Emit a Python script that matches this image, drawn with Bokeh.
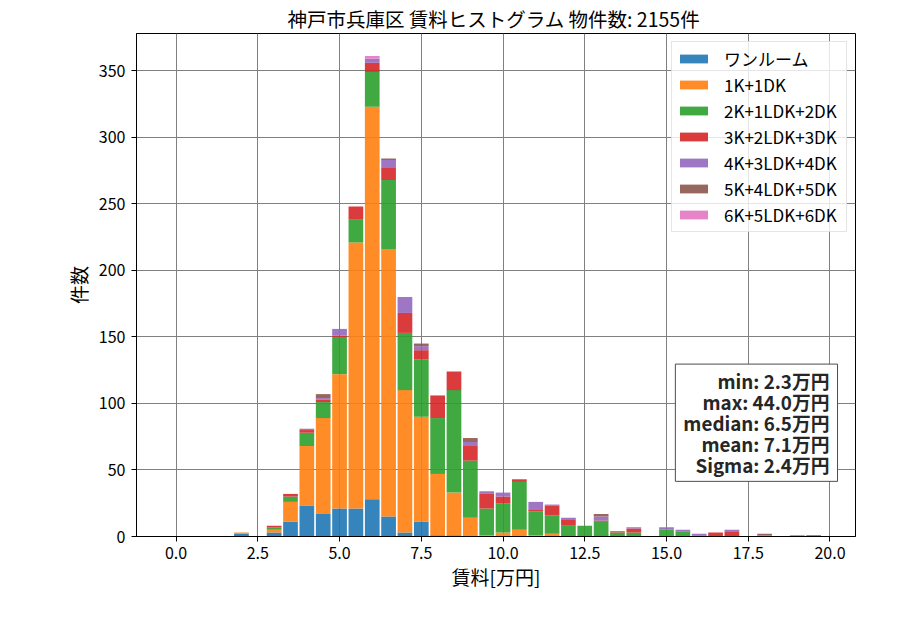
import numpy as np
from bokeh.plotting import figure
from bokeh.models import ColumnDataSource, Range1d, FixedTicker, Label
from bokeh.embed import file_html
from bokeh.resources import INLINE

FONT = "Noto Sans CJK JP"

# 賃料ビン中心 [万円]
rent = [2.0, 2.5, 3.0, 3.5, 4.0, 4.5, 5.0, 5.5, 6.0, 6.5, 7.0, 7.5,
        8.0, 8.5, 9.0, 9.5, 10.0, 10.5, 11.0, 11.5, 12.0, 12.5, 13.0, 13.5,
        14.0, 14.5, 15.0, 15.5, 16.0, 16.5, 17.0, 17.5, 18.0, 18.5, 19.0, 19.5]

# 間取り別の件数 (下から積み上げ)
one_room = [2, 0, 3, 11, 23, 17, 21, 21, 28, 15, 3, 11,
            1, 1, 0, 0, 0, 0, 0, 0, 0, 0, 0, 0,
            0, 0, 0, 0, 0, 0, 0, 0, 0, 0, 0, 0]
k1 = [1, 0, 2, 15, 45, 72, 101, 200, 295, 201, 107, 79,
      46, 32, 14, 1, 3, 5, 1, 2, 0, 0, 0, 0,
      0, 0, 0, 0, 0, 0, 0, 0, 0, 0, 0, 0]
k2 = [0, 0, 2, 4, 10, 12, 28, 17, 26, 52, 43, 43,
      42, 77, 43, 20, 22, 36, 18, 14, 8, 8, 11, 3,
      3, 0, 5, 4, 1, 0, 0, 0, 0, 0, 0, 0]
k3 = [0, 0, 1, 2, 2, 2, 1, 10, 7, 9, 15, 7,
      17, 14, 11, 11, 5, 2, 1, 7, 5, 0, 1, 1,
      3, 0, 0, 0, 0, 3, 4, 0, 0, 0, 0, 1]
k4 = [0, 0, 0, 0, 1, 1, 5, 0, 3, 6, 12, 3,
      0, 0, 3, 2, 3, 0, 6, 1, 1, 0, 3, 0,
      1, 0, 2, 1, 1, 0, 1, 0, 1, 0, 1, 0]
k5 = [0, 0, 0, 0, 0, 3, 0, 0, 0, 1, 0, 2,
      0, 0, 3, 0, 0, 0, 0, 0, 0, 0, 2, 0,
      0, 0, 0, 0, 0, 0, 0, 0, 1, 0, 0, 0]
k6 = [0, 0, 0, 0, 0, 0, 0, 0, 2, 0, 0, 0,
      0, 0, 0, 0, 0, 0, 0, 0, 0, 0, 0, 0,
      0, 0, 0, 0, 0, 0, 0, 0, 0, 0, 0, 0]

labels = ["ワンルーム", "1K+1DK", "2K+1LDK+2DK", "3K+2LDK+3DK",
          "4K+3LDK+4DK", "5K+4LDK+5DK", "6K+5LDK+6DK"]
colors = ["#1f77b4", "#ff7f0e", "#2ca02c", "#d62728",
          "#9467bd", "#8c564b", "#e377c2"]

x_ticks = [0.0, 2.5, 5.0, 7.5, 10.0, 12.5, 15.0, 17.5, 20.0]
x_tick_labels = ["0.0", "2.5", "5.0", "7.5", "10.0", "12.5", "15.0", "17.5", "20.0"]
y_ticks = [0, 50, 100, 150, 200, 250, 300, 350]

stats = ["min: 2.3万円", "max: 44.0万円", "median: 6.5万円",
         "mean: 7.1万円", "Sigma: 2.4万円"]
n_total = 2155

stackers = ["one_room", "k1", "k2", "k3", "k4", "k5", "k6"]
source = ColumnDataSource(data={
    "rent": rent, "one_room": one_room, "k1": k1, "k2": k2,
    "k3": k3, "k4": k4, "k5": k5, "k6": k6,
})

p = figure(
    width=884, height=614,
    x_range=Range1d(-1.21, 20.78), y_range=Range1d(0, 378),
    output_backend="svg", toolbar_location=None,
    min_border_left=136, min_border_right=29,
    min_border_top=32, min_border_bottom=78,
)

p.vbar_stack(stackers, x="rent", width=0.45, source=source,
             color=colors, fill_alpha=0.9, line_color=None,
             legend_label=labels)

# タイトル
p.title.text = "神戸市兵庫区 賃料ヒストグラム  物件数: %d件" % n_total
p.title.text_font = FONT
p.title.text_font_size = "19.5px"
p.title.text_font_style = "normal"
p.title.text_color = "black"
p.title.align = "center"
p.title.standoff = 2

# 軸
p.xaxis.ticker = FixedTicker(ticks=x_ticks)
p.xaxis.major_label_overrides = {t: s for t, s in zip(x_ticks, x_tick_labels)}
p.yaxis.ticker = FixedTicker(ticks=y_ticks)
p.xaxis.axis_label = "賃料[万円]"
p.yaxis.axis_label = "件数"
for ax in (p.xaxis, p.yaxis):
    ax.axis_label_text_font = FONT
    ax.axis_label_text_font_size = "19px"
    ax.axis_label_text_font_style = "normal"
    ax.axis_label_text_color = "black"
    ax.major_label_text_font = FONT
    ax.major_label_text_font_size = "16px"
    ax.major_label_text_color = "black"
    ax.axis_line_color = "black"
    ax.major_tick_line_color = "black"
    ax.major_tick_out = 5
    ax.major_tick_in = 0
    ax.minor_tick_line_color = None
p.xaxis.major_label_standoff = 5
p.xaxis.axis_label_standoff = 1
p.yaxis.major_label_standoff = 6
p.yaxis.axis_label_standoff = 4
p.yaxis.major_label_orientation = "horizontal"

p.grid.grid_line_color = "#808080"
p.grid.grid_line_width = 1
p.outline_line_color = "black"
p.outline_line_width = 1

# 凡例
lg = p.legend[0]
lg.location = "top_right"
lg.margin = 8
lg.padding = 4
lg.spacing = 1
lg.glyph_width = 35
lg.glyph_height = 11
lg.label_height = 20
lg.label_width = 118
lg.label_standoff = 13
lg.label_text_font = FONT
lg.label_text_font_size = "17px"
lg.label_text_color = "black"
lg.border_line_color = "#cccccc"
lg.background_fill_color = "white"
lg.background_fill_alpha = 0.8

# 統計値
box = Label(x=20.23, y=85.5, text="\n".join(stats),
            text_align="right", text_baseline="middle",
            text_font=FONT, text_font_size="18.8px", text_font_style="bold",
            text_color="#262626", text_line_height=0.78,
            background_fill_color="white", background_fill_alpha=1.0,
            border_line_color="#4d4d4d", border_line_width=1,
            padding=(8, 3))
p.add_layout(box)

open("out.html", "w").write(file_html(p, INLINE))
